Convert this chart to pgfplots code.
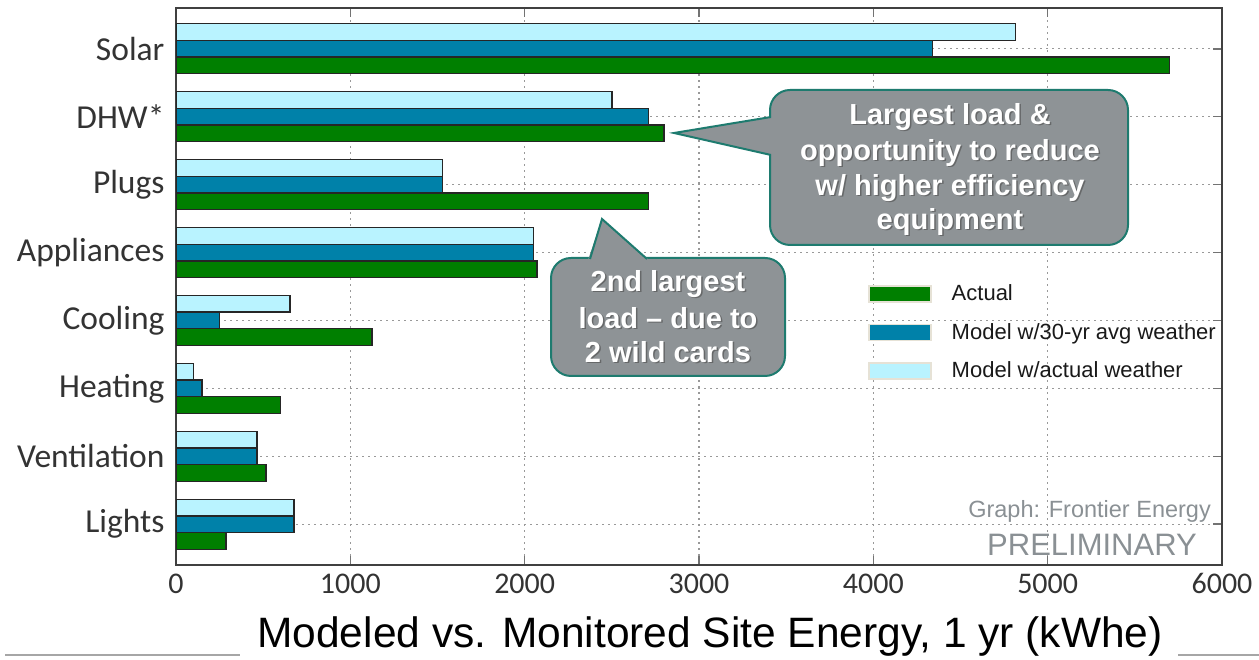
\documentclass[border=0pt]{standalone}
\usepackage{pgfplots}
\pgfplotsset{compat=1.18}
\usepackage{fontspec}
\setmainfont{Liberation Sans}
\newfontfamily\carlito{Carlito}
\definecolor{cgreen}{HTML}{007F00}
\definecolor{cblue}{HTML}{0081A9}
\definecolor{clight}{HTML}{B9F3FF}
\definecolor{callfill}{HTML}{8E9396}
\definecolor{callborder}{HTML}{1E7B6F}
\definecolor{lgborder}{HTML}{E6E2D6}
\definecolor{wmgray}{HTML}{8A9094}
\newcommand\calltext[3]{%
  \node[text=black!70, opacity=0.6, font=\bfseries\fontsize{29}{29}\selectfont] at (#1+1.5,#2+1.5) {#3};
  \node[text=white, font=\bfseries\fontsize{29}{29}\selectfont] at (#1,#2) {#3};}
\begin{document}
\begin{tikzpicture}
\path[use as bounding box] (0pt,0pt) rectangle (1259pt,660pt);
\begin{axis}[
  at={(176pt,95pt)}, anchor=south west,
  scale only axis, width=1046pt, height=557pt,
  xbar, xmin=0, xmax=6000, ymin=-0.6, ymax=7.6, y dir=reverse,
  ytick={0,...,7},
  yticklabels={Solar,DHW*,Plugs,Appliances,Cooling,Heating,Ventilation,Lights},
  xtick={0,1000,...,6000},
  /pgf/number format/assume math mode=true,
  /pgf/number format/set thousands separator={},
  x tick label style={font=\carlito\fontsize{30}{30}\selectfont, text=black!80, yshift=-5pt},
  y tick label style={font=\carlito\fontsize{33.5}{33.5}\selectfont, text=black!80, xshift=-8pt},
  grid=major,
  grid style={gray!80, line width=1.3pt, dash pattern=on 1.5pt off 4.5pt},
  axis line style={draw=black!75, line width=1.8pt},
  tick style={draw=black!55, line width=1.6pt},
  major tick length=9pt, tick align=inside,
  ytick pos=right, yticklabel pos=left,
  bar width=0.245,
  every axis plot/.append style={draw=black!85, line width=1.4pt},
  reverse legend,
  legend cell align=left,
  legend image code/.code={\draw[#1, draw=lgborder, line width=1.5pt] (0pt,-8pt) rectangle (62pt,8pt);},
  legend style={at={(0.6616,0.503)}, anchor=north west, draw=none, fill=none,
    inner sep=0pt, font=\fontsize{22}{22}\selectfont, text=black!90,
    row sep=21pt, column sep=0pt,
    nodes={inner xsep=0pt, inner ysep=0pt}},
  /tikz/every odd column/.append style={column sep=20pt},
]
\addplot[fill=clight, bar shift=-0.245] coordinates {
 (4815,0) (2500,1) (1530,2) (2050,3) (655,4) (100,5) (465,6) (677,7)};
\addplot[fill=cblue, bar shift=0] coordinates {
 (4340,0) (2710,1) (1530,2) (2050,3) (248,4) (150,5) (465,6) (677,7)};
\addplot[fill=cgreen, bar shift=0.245] coordinates {
 (5700,0) (2800,1) (2710,2) (2070,3) (1125,4) (598,5) (516,6) (287,7)};
\legend{Model w/actual weather, Model w/30-yr avg weather, Actual}
\end{axis}
\begin{scope}[x=1pt, y=-1pt, shift={(0pt,660pt)}]
  % callout 1
  \draw[fill=callfill, draw=callborder, line width=2pt, rounded corners=20pt]
    (770,136) -- (770,90) -- (1128,90) -- (1128,245) -- (770,245) -- (770,136);
  \fill[callfill] (674,133) -- (772,117) -- (772,155) -- cycle;
  \draw[callborder, line width=2pt, line join=miter] (771,117) -- (674,133) -- (771,155);
  \calltext{950}{117}{Largest load \&}
  \calltext{950}{153}{opportunity to reduce}
  \calltext{950}{188}{w/ higher efficiency}
  \calltext{950}{222}{equipment}
  % callout 2
  \draw[fill=callfill, draw=callborder, line width=2pt, rounded corners=20pt]
    (620,258) -- (785,258) -- (785,376) -- (551,376) -- (551,258) -- (620,258);
  \fill[callfill] (602,219) -- (588,260) -- (649,260) -- cycle;
  \draw[callborder, line width=2pt, line join=miter] (590,259) -- (602,219) -- (647,259);
  \calltext{668}{284}{2nd largest}
  \calltext{668}{318}{load – due to}
  \calltext{668}{352}{2 wild cards}
  % watermark
  \node[anchor=base east, text=wmgray, font=\fontsize{23.5}{23.5}\selectfont, inner sep=0pt] at (1211,518) {Graph: Frontier Energy};
  \node[anchor=base east, text=wmgray, font=\fontsize{31}{31}\selectfont, inner sep=0pt] at (1197,556) {PRELIMINARY};
  % title
  \node[anchor=base, font=\fontsize{42.5}{42.5}\selectfont, inner sep=0pt] at (710,648) {Modeled vs. Monitored Site Energy, 1 yr (kWhe)};
  \draw[gray!70, line width=1.5pt] (5,655) -- (240,655);
  \draw[gray!70, line width=1.5pt] (1178,655) -- (1259,655);
\end{scope}
\end{tikzpicture}
\end{document}
